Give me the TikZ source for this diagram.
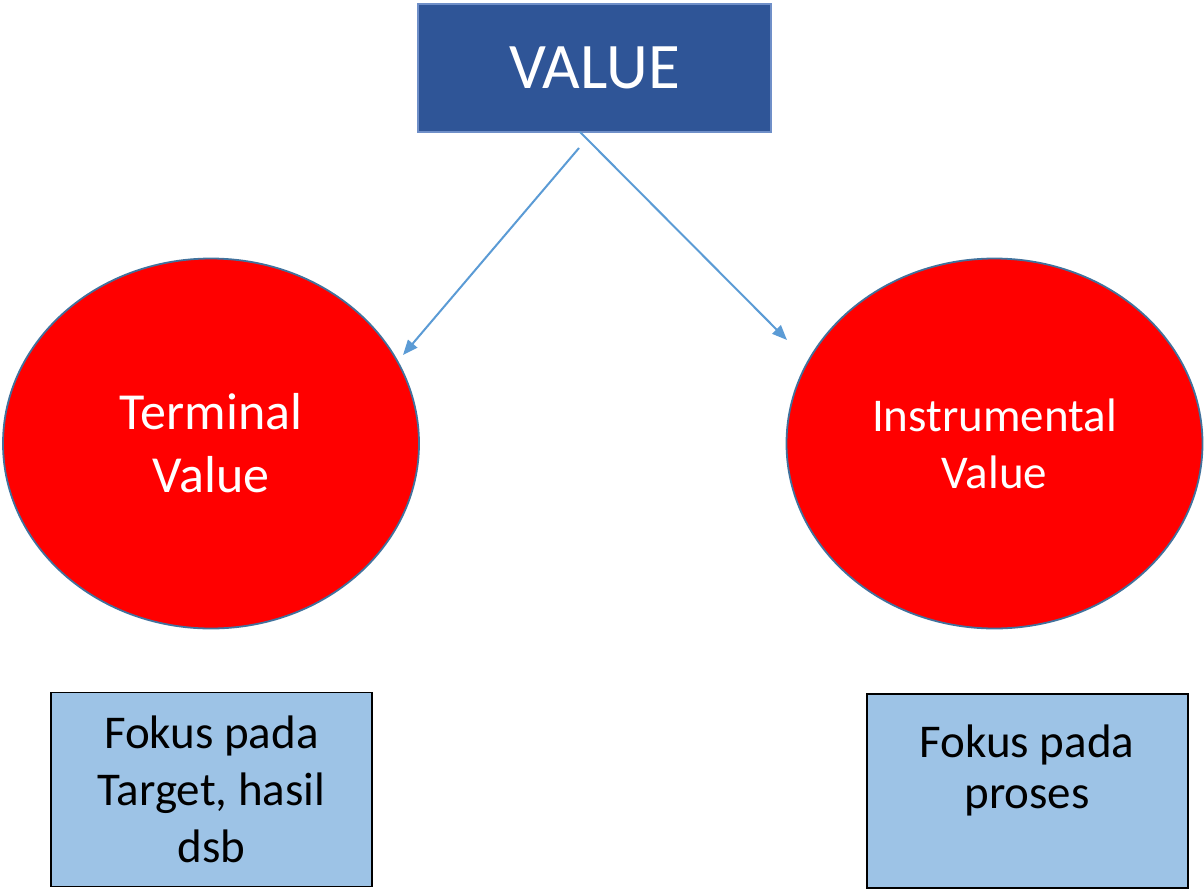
\documentclass[tikz,border=0pt]{standalone}
\usepackage{fontspec}
\setmainfont{Carlito}
\usetikzlibrary{shapes.geometric,arrows.meta}
\definecolor{topblue}{HTML}{2F5597}
\definecolor{topedge}{HTML}{6F8FC8}
\definecolor{arrowblue}{HTML}{5B9BD5}
\definecolor{ovaledge}{HTML}{41719C}
\definecolor{boxblue}{HTML}{9DC3E6}
\tikzset{
  topbox/.style={draw=topedge, fill=topblue, line width=1.5pt, text=white, minimum width=353pt, minimum height=128pt, inner sep=0pt, font=\fontsize{65}{78}\selectfont},
  oval/.style={ellipse, draw=ovaledge, fill=red, line width=1.8pt, text=white, minimum width=416pt, minimum height=370pt, inner sep=0pt, align=center},
  infobox/.style={draw=black, fill=boxblue, line width=1.5pt, minimum width=321pt, minimum height=194pt, inner sep=0pt, align=center, font=\fontsize{47}{57}\selectfont},
  conn/.style={draw=arrowblue, line width=2pt, -{Triangle[length=15pt,width=12pt]}}
}
\begin{document}
\begin{tikzpicture}[x=1pt,y=-1pt]
\useasboundingbox (0,0) rectangle (1204,889);
\node[topbox] (value) at (594.5,68) {VALUE};
\node[oval, font=\fontsize{52}{63}\selectfont] (terminal) at (211,443.5) {Terminal\\Value};
\node[oval, font=\fontsize{47}{57}\selectfont] (instr) at (994.5,443.5) {Instrumental\\Value};
\node[infobox] (lbox) at (211.5,789.5) {Fokus pada\\Target, hasil\\dsb};
\node[infobox] (rbox) at (1027.5,791) {};
\node[font=\fontsize{47}{51}\selectfont, align=center, anchor=base] (rtext) at (1027,808) {Fokus pada\\proses};
\coordinate (s1) at (579,148);
\coordinate (e1) at (403,355);
\coordinate (s2) at (580,132);
\coordinate (e2) at (787,340);
\draw[conn] (s1) -- (e1);
\draw[conn] (s2) -- (e2);
\end{tikzpicture}
\end{document}
